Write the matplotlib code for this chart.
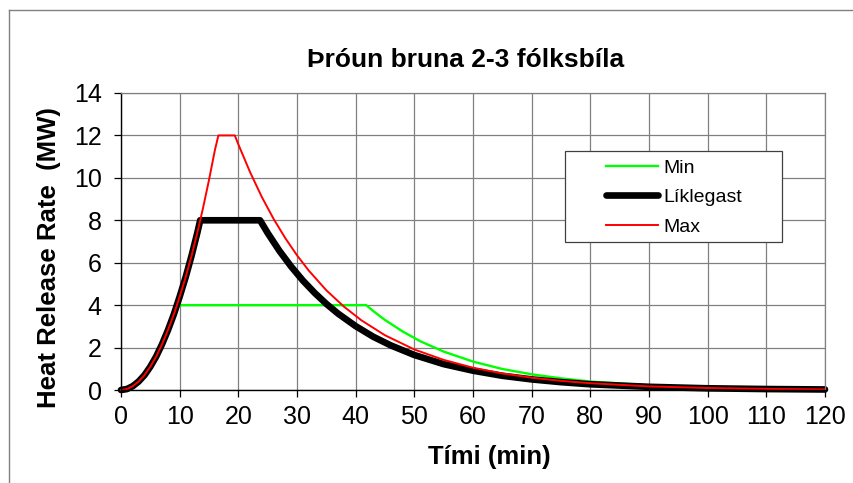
import matplotlib
matplotlib.use('Agg')
import matplotlib.pyplot as plt
from matplotlib.lines import Line2D
from matplotlib.patches import Rectangle

plt.rcParams['font.family'] = ['Liberation Sans', 'DejaVu Sans']

# (time in min, HRR in MW)
t_min = [0, 1, 2, 3, 4, 5, 6, 7, 8, 9, 9.5, 41.8, 43, 45, 48, 51, 55, 60, 65, 70, 75, 80, 90, 100, 110, 120]
hrr_min = [0, 0.044, 0.18, 0.4, 0.7, 1.1, 1.58, 2.16, 2.82, 3.56, 4.0, 4.0, 3.72, 3.30, 2.76, 2.30, 1.81,
           1.34, 0.99, 0.74, 0.55, 0.40, 0.22, 0.12, 0.067, 0.037]

t_likl = [0, 1, 2, 3, 4, 5, 6, 7, 8, 9, 10, 11, 12, 13, 13.5, 23.7, 25, 27, 29, 31, 33, 35, 37, 40,
          43, 46, 50, 55, 60, 65, 70, 75, 80, 90, 100, 110, 120]
hrr_likl = [0, 0.044, 0.18, 0.4, 0.7, 1.1, 1.58, 2.16, 2.82, 3.56, 4.4, 5.3, 6.3, 7.4, 8.0, 8.0, 7.40,
            6.56, 5.82, 5.16, 4.58, 4.06, 3.60, 3.01, 2.51, 2.10, 1.65, 1.22, 0.91, 0.67, 0.50, 0.37,
            0.27, 0.15, 0.08, 0.045, 0.025]

t_max = [0, 1, 2, 3, 4, 5, 6, 7, 8, 9, 10, 11, 12, 13, 14, 15, 16, 16.6, 19.4, 20, 22, 24, 26, 28, 30,
         32, 35, 38, 41, 45, 50, 55, 60, 65, 70, 75, 80, 90, 100, 110, 120]
hrr_max = [0, 0.044, 0.18, 0.4, 0.7, 1.1, 1.58, 2.16, 2.82, 3.56, 4.4, 5.3, 6.3, 7.4, 8.6, 9.9, 11.3,
           12.0, 12.0, 11.58, 10.27, 9.1, 8.07, 7.16, 6.35, 5.63, 4.7, 3.93, 3.28, 2.58, 1.91, 1.42,
           1.05, 0.78, 0.58, 0.43, 0.32, 0.17, 0.095, 0.052, 0.029]

x_ticks = list(range(0, 121, 10))
y_ticks = list(range(0, 15, 2))

W, H = 854, 483
fig = plt.figure(figsize=(W / 100, H / 100), dpi=100)
ax = fig.add_axes([121 / W, 1 - 390 / H, (825 - 121) / W, (390 - 93) / H])

ax.plot(t_min, hrr_min, color='#00ff00', lw=1.7, label='Min', clip_on=False)
ax.plot(t_likl, hrr_likl, color='black', lw=4.8, label='Líklegast', clip_on=False,
        solid_joinstyle='round', solid_capstyle='round')
ax.plot(t_max, hrr_max, color='#ff0000', lw=1.4, label='Max', clip_on=False)

ax.set_xlim(0, 120)
ax.set_ylim(0, 14)
ax.set_xticks(x_ticks)
ax.set_yticks(y_ticks)
ax.grid(True, color='#808080', lw=0.9)
ax.set_axisbelow(True)
ax.tick_params(direction='out', length=5, width=0.9, labelsize=18, color='black')
ax.tick_params(axis='y', pad=9)
ax.tick_params(axis='x', pad=6)
for s in ['top', 'right']:
    ax.spines[s].set_color('#808080')
    ax.spines[s].set_linewidth(0.9)
for s in ['left', 'bottom']:
    ax.spines[s].set_color('black')
    ax.spines[s].set_linewidth(1.0)

fig.text(466 / W, 1 - 60 / H, 'Þróun bruna 2-3 fólksbíla', ha='center', va='center',
         fontsize=19, fontweight='bold')
fig.text(489 / W, 1 - 457 / H, 'Tími (min)', ha='center', va='center',
         fontsize=18.5, fontweight='bold')
fig.text(49 / W, 1 - 258 / H, 'Heat Release Rate  (MW)', ha='center', va='center',
         rotation=90, fontsize=18.5, fontweight='bold')

# legend box
fig.patches.append(Rectangle((565 / W, 1 - 242 / H), (782 - 565) / W, (242 - 151) / H,
                             transform=fig.transFigure, facecolor='white',
                             edgecolor='#404040', lw=0.9, zorder=5))
leg = fig.legend(loc='upper left', bbox_to_anchor=(606 / W, 1 - 159 / H), frameon=False,
                 fontsize=14, handlelength=2.7, handletextpad=0.25, labelspacing=0.62,
                 borderpad=0, borderaxespad=0)
leg.set_zorder(6)

# outer chart border (top and left visible)
fig.add_artist(Line2D([9 / W, 1], [1 - 10 / H, 1 - 10 / H], transform=fig.transFigure,
                      color='#808080', lw=1))
fig.add_artist(Line2D([9 / W, 9 / W], [0, 1 - 10 / H], transform=fig.transFigure,
                      color='#808080', lw=1))

fig.savefig('out.png', dpi=100)
